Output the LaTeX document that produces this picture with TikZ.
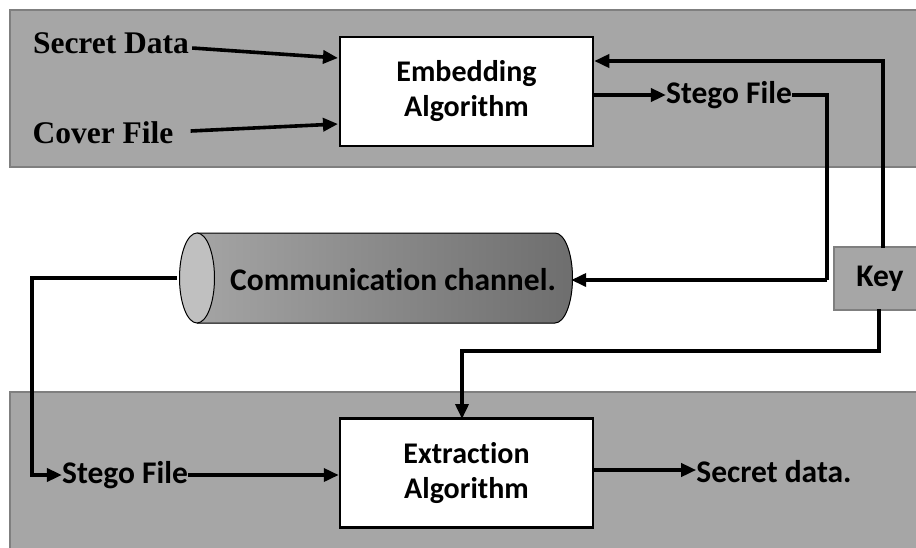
\documentclass[tikz,border=0pt]{standalone}
\usepackage{fontspec}
\setmainfont{Carlito}[Ligatures=NoCommon]
\newfontfamily\timesbold{Liberation Serif}
\usetikzlibrary{arrows.meta,calc}
\definecolor{panelfill}{HTML}{A6A6A6}
\definecolor{panelline}{HTML}{7F7F7F}
\definecolor{capfill}{HTML}{C0C0C0}
\definecolor{tubeleft}{HTML}{A4A4A4}
\definecolor{tuberight}{HTML}{6E6E6E}
\tikzset{
  panel/.style={fill=panelfill, draw=panelline, line width=2.5pt},
  algo/.style={draw=black, fill=white, line width=2.5pt, minimum width=253pt, minimum height=109pt, align=center, font=\fontsize{30}{35}\selectfont\bfseries},
  lbl/.style={font=\fontsize{31.5}{36}\selectfont\bfseries, inner sep=0pt},
  serif/.style={font=\timesbold\fontsize{31.5}{36}\selectfont\bfseries, inner sep=0pt},
  keybox/.style={fill=panelfill, draw=panelline, line width=2.5pt},
  flow/.style={line width=3.6pt, -{Triangle[length=15pt,width=13pt]}},
  wire/.style={line width=3.6pt}
}
\begin{document}
\begin{tikzpicture}[x=1pt,y=-1pt]
  \useasboundingbox (0,0) rectangle (916,547);
  \begin{scope}
    \clip (0,0) rectangle (916,547);
    % background panels
    \draw[panel] (10,10) rectangle (940,167);
    \draw[panel] (10,392) rectangle (940,570);
    % key box
    \draw[keybox] (834,247) rectangle (940,310);
  \end{scope}
  \node[lbl] (key) at (880,279) {Key};
  \coordinate (keytop) at (883,248);
  \coordinate (keybot) at (879,309);

  % algorithm boxes
  \node[algo] (emb) at (466.5,91.5) {Embedding\\Algorithm};
  \node[algo] (ext) at (466.5,473) {Extraction\\Algorithm};

  % inputs
  \node[serif] (sd) at (111,43) {Secret Data};
  \node[serif] (cf) at (103,133) {Cover File};
  \coordinate (sdend) at (338,58);
  \coordinate (cfend) at (338,124);
  \draw[flow] ($(sd.east)+(3,5)$) -- (sdend);
  \draw[flow] ($(cf.east)+(17,-2)$) -- (cfend);

  % stego output
  \node[lbl] (sf1) at (729,95) {Stego File};
  \draw[flow] (emb.east |- sf1.west) -- (sf1.west);

  % communication channel
  \node[minimum width=394pt, minimum height=90pt, inner sep=0pt] (chan) at (374,278) {};
  \fill[left color=tubeleft, right color=tuberight]
    (197,233) -- (555,233) arc[start angle=-90, end angle=90, x radius=17.5, y radius=45]
    -- (197,323) -- cycle;
  \draw[line width=1pt] (197,233) -- (555,233) arc[start angle=-90, end angle=90, x radius=17.5, y radius=45] -- (197,323);
  \draw[line width=1pt, fill=capfill] (197,278) ellipse[x radius=17.5, y radius=45];
  \node[lbl] at (393,280) {Communication channel.};

  \draw[wire] (sf1.east) -- (827,95) -- (827,280) coordinate (c1);
  \draw[flow] (c1) -- (chan.east |- c1);

  % key to both algorithms
  \draw[flow] (keytop) -- (883,61) -- (emb.east |- 0,61);
  \draw[flow] (keybot) -- (879,351) -- (462,351) -- (462,419);

  % receiver side
  \node[lbl] (sf2) at (125,475) {Stego File};
  \draw[flow] (chan.west) -- (32,278) -- (32,475) -- (sf2.west);
  \draw[flow] (sf2.east) -- (ext.west |- sf2.east);

  \node[lbl] (sd2) at (774,472) {Secret data.};
  \draw[flow] (ext.east |- 0,470) -- (sd2.west |- 0,470);
\end{tikzpicture}
\end{document}
